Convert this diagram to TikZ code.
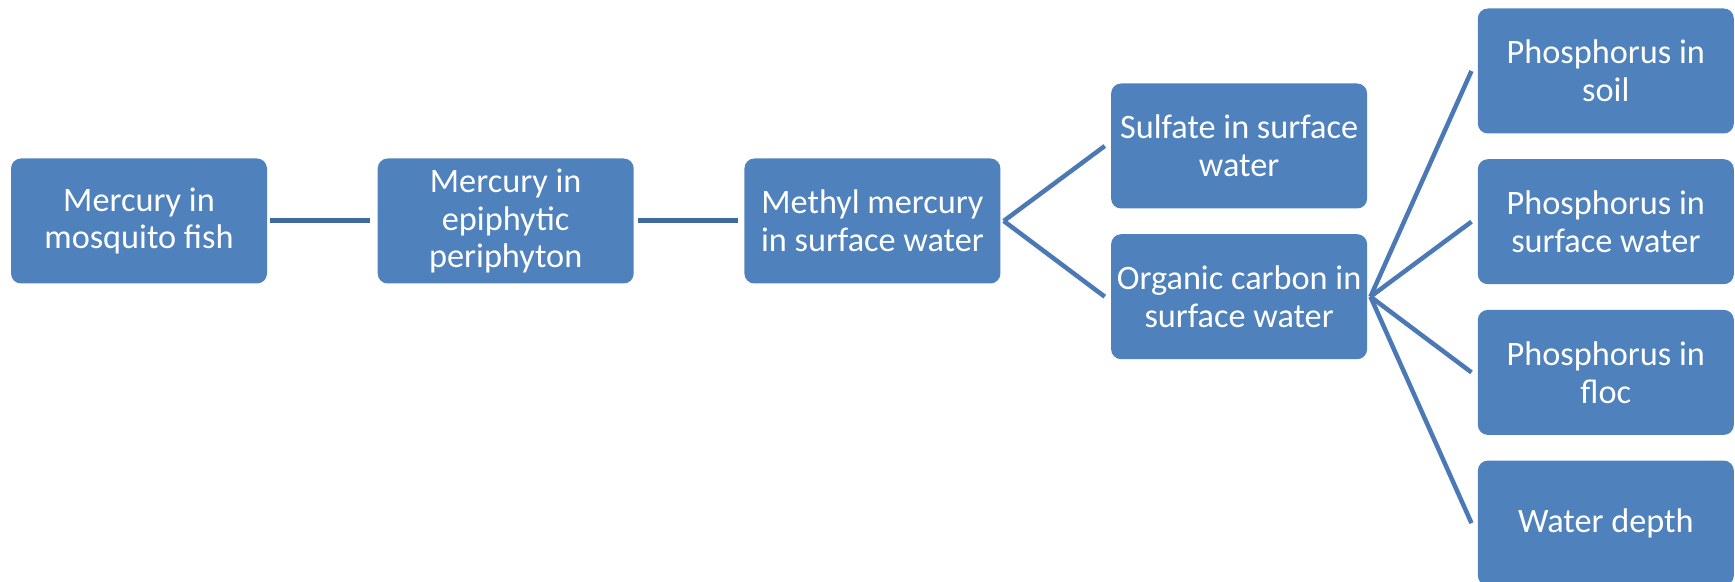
\documentclass[tikz,border=0pt]{standalone}
\usepackage{fontspec}
\setmainfont{Carlito}
\usepackage{xcolor}
\usepackage{tikz}
\usetikzlibrary{positioning,calc}
\definecolor{boxblue}{HTML}{4F81BD}
\definecolor{linkblue}{HTML}{4A79B5}
\definecolor{chainblue}{HTML}{40699E}
\tikzset{
  box/.style  ={rounded corners=0.2cm,fill=boxblue,draw=none,text=white,
                minimum width=5.12cm,minimum height=2.5cm,inner sep=2pt,
                align=center,font=\fontsize{19.5}{21.5}\selectfont},
  link/.style ={line width=0.09cm,draw=linkblue},
  chain/.style={line width=0.1cm,draw=chainblue}
}

\begin{document}
\begin{tikzpicture}[node distance=2.2cm]
    \useasboundingbox (0,0) rectangle (34.7,-11.64);
    % main chain
    \node[box] (fish) at (2.78,-4.42) {Mercury in\\mosquito fish};
    \node[box,right=of fish] (epi) {Mercury in\\epiphytic\\periphyton};
    \node[box,right=of epi] (methyl) {Methyl mercury\\in surface water};
    % sulfate / carbon
    \node[box,right=of methyl,yshift=1.5cm] (sulfate) {Sulfate in surface\\water};
    \node[box,below=0.5cm of sulfate] (carbon) {Organic carbon in\\surface water};
    % drivers of organic carbon
    \node[box,right=of carbon,yshift=1.5cm] (psurf) {Phosphorus in\\surface water};
    \node[box,above=0.5cm of psurf] (psoil) {Phosphorus in\\soil};
    \node[box,below=0.5cm of psurf] (pfloc) {Phosphorus in\\floc};
    \node[box,below=0.5cm of pfloc] (depth) {Water depth};
    \draw[chain,shorten <=0.06cm,shorten >=0.14cm] (fish) -- (epi);
    \draw[chain,shorten <=0.08cm,shorten >=0.12cm] (epi) -- (methyl);
    \coordinate (fork1) at ([xshift=0.06cm]methyl.east);
    \coordinate (fork2) at ([xshift=0.06cm]carbon.east);
    \foreach \n in {sulfate,carbon}
      \draw[link] (fork1) -- ([xshift=-0.12cm]\n.west);
    \foreach \n in {psoil,psurf,pfloc,depth}
      \draw[link] (fork2) -- ([xshift=-0.12cm]\n.west);
  \end{tikzpicture}
\end{document}
